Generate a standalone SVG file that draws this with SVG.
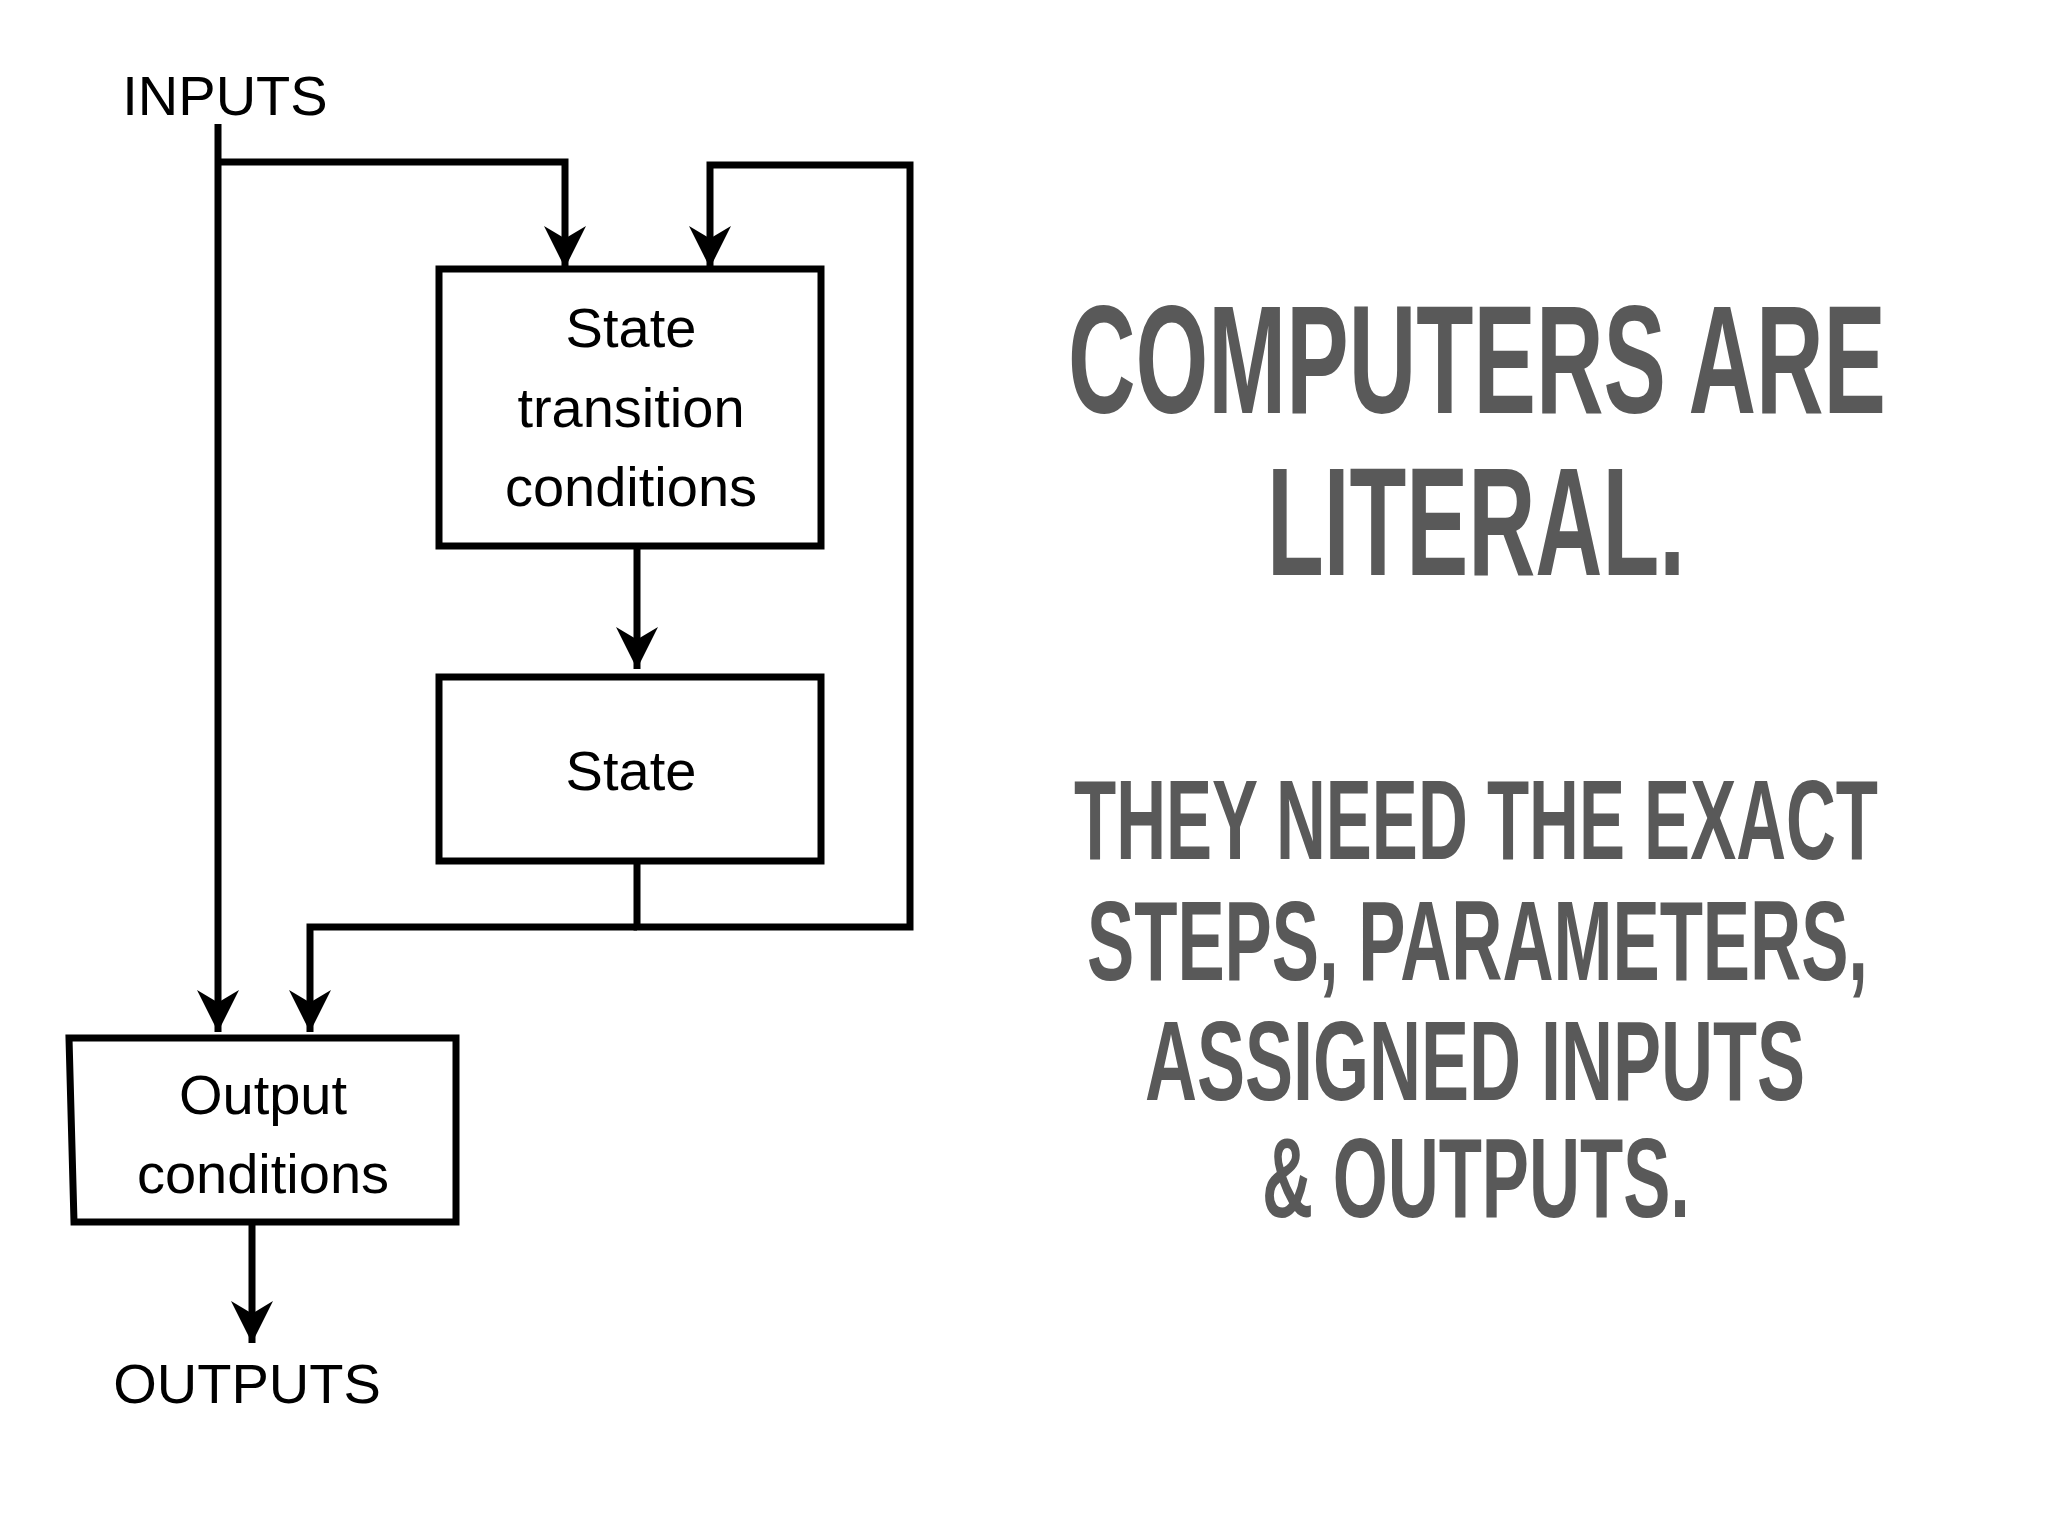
<svg xmlns="http://www.w3.org/2000/svg" width="2048" height="1536" viewBox="0 0 2048 1536">
<style>
.box{fill:#fff;stroke:#000;stroke-width:7}
.ln{fill:none;stroke:#000;stroke-width:7}
.t{font-family:"Liberation Sans",Arial,sans-serif;font-size:56px;fill:#000;text-anchor:middle}
.h{font-family:"Liberation Sans",Arial,sans-serif;font-weight:bold;fill:#595959;text-anchor:start}
</style>
<defs>
<marker id="ah" viewBox="0 0 10 10" refX="10" refY="5" markerWidth="6" markerHeight="6" markerUnits="strokeWidth" orient="auto">
<path d="M0,0 L10,5 L0,10 L3,5 z" fill="#000"/>
</marker>
</defs>
<rect width="2048" height="1536" fill="#fff"/>
<g id="connectors">
<path class="ln" d="M218,124 V1032" marker-end="url(#ah)"/>
<path class="ln" d="M218,162 H565 V268" marker-end="url(#ah)"/>
<path class="ln" d="M637,546 V669" marker-end="url(#ah)"/>
<path class="ln" d="M637,861 V927 H910 V165 H710 V268" marker-end="url(#ah)"/>
<path class="ln" d="M637,927 H310 V1032" marker-end="url(#ah)"/>
<path class="ln" d="M252,1222 V1343" marker-end="url(#ah)"/>
</g>
<g id="inputs"><text class="t" x="225" y="115">INPUTS</text></g>
<g id="transition">
<rect class="box" x="439" y="269" width="382" height="277"/>
<text class="t" x="631" y="347">State</text>
<text class="t" x="631" y="427">transition</text>
<text class="t" x="631" y="506">conditions</text>
</g>
<g id="state">
<rect class="box" x="439" y="677" width="382" height="184"/>
<text class="t" x="631" y="790">State</text>
</g>
<g id="output">
<path class="box" d="M69,1038 H456 V1222 H74 Z"/>
<text class="t" x="263" y="1114">Output</text>
<text class="t" x="263" y="1193">conditions</text>
</g>
<g id="outputs"><text class="t" x="247" y="1403">OUTPUTS</text></g>
<g id="heading">
<text class="h" x="1068" y="413" font-size="154" textLength="818" lengthAdjust="spacingAndGlyphs">COMPUTERS ARE</text>
<text class="h" x="1267" y="575" font-size="154" textLength="418" lengthAdjust="spacingAndGlyphs">LITERAL.</text>
<text class="h" x="1074" y="859" font-size="114" textLength="804" lengthAdjust="spacingAndGlyphs">THEY NEED THE EXACT</text>
<text class="h" x="1087" y="980" font-size="114" textLength="781" lengthAdjust="spacingAndGlyphs">STEPS, PARAMETERS,</text>
<text class="h" x="1145" y="1100" font-size="114" textLength="660" lengthAdjust="spacingAndGlyphs">ASSIGNED INPUTS</text>
<text class="h" x="1262" y="1217" font-size="114" textLength="428" lengthAdjust="spacingAndGlyphs">&amp; OUTPUTS.</text>
</g>
</svg>
